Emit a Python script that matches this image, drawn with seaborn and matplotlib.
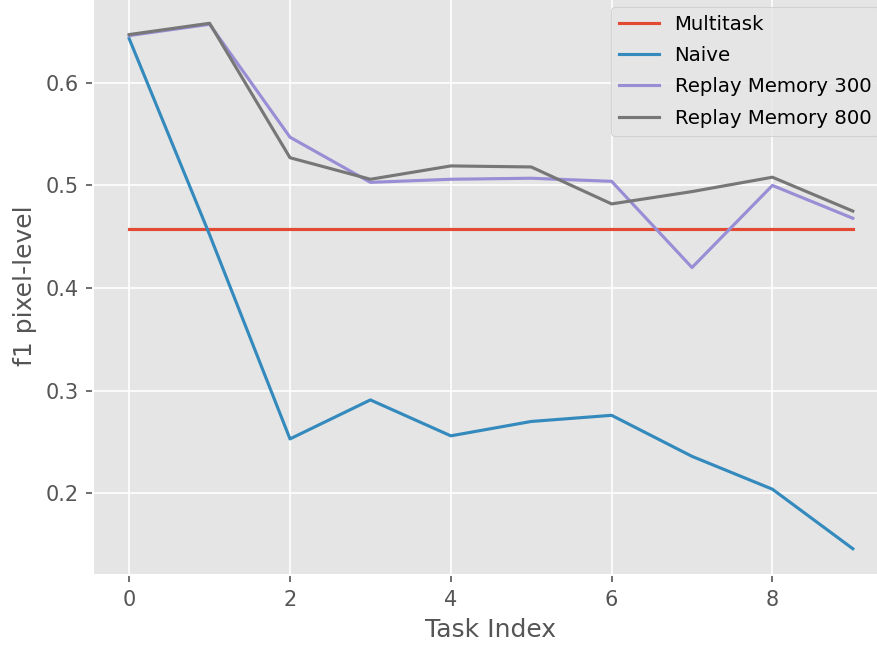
import matplotlib
matplotlib.use("Agg")
import matplotlib.pyplot as plt
import seaborn as sns
import pandas as pd

# F1 (pixel-level) after each task of the continual-learning sequence
task_index = [0, 1, 2, 3, 4, 5, 6, 7, 8, 9]
multitask = [0.458] * 10
naive = [0.643, 0.452, 0.253, 0.291, 0.256, 0.270, 0.276, 0.236, 0.204, 0.146]
replay_300 = [0.646, 0.657, 0.547, 0.503, 0.506, 0.507, 0.504, 0.420, 0.500, 0.468]
replay_800 = [0.647, 0.658, 0.527, 0.506, 0.519, 0.518, 0.482, 0.494, 0.508, 0.475]

series = {
    "Multitask": multitask,
    "Naive": naive,
    "Replay Memory 300": replay_300,
    "Replay Memory 800": replay_800,
}

frames = []
for name, vals in series.items():
    frames.append(pd.DataFrame({"Task Index": task_index, "f1": vals, "method": name}))
df = pd.concat(frames, ignore_index=True)

plt.style.use("ggplot")
colors = ["#E24A33", "#348ABD", "#988ED5", "#777777"]

fig = plt.figure(figsize=(877 / 150, 646 / 150), dpi=150)
ax = fig.add_axes([93 / 877, 71 / 646, 796 / 877, 578 / 646])

sns.lineplot(data=df, x="Task Index", y="f1", hue="method",
             palette=colors, linewidth=1.5, ax=ax)

ax.set_xlabel("Task Index")
ax.set_ylabel("f1 pixel-level")
ax.set_xticks([0, 2, 4, 6, 8])
ax.set_yticks([0.2, 0.3, 0.4, 0.5, 0.6])

handles, labels = ax.get_legend_handles_labels()
ax.legend(handles, labels, loc="upper right", fontsize=9.5, labelspacing=0.62)

fig.savefig("out.png", dpi=150)
